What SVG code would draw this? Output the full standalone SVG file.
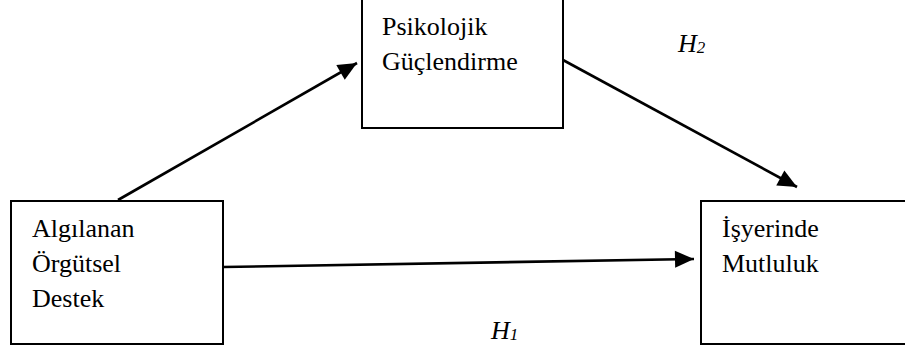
<svg xmlns="http://www.w3.org/2000/svg" width="905" height="349" viewBox="0 0 905 349">
<style>
.box{fill:#fff;stroke:#000;stroke-width:2}
.t{font-family:"Liberation Serif","Times New Roman",serif;font-size:26px;fill:#000}
.h{font-family:"Liberation Serif","Times New Roman",serif;font-style:italic;font-size:26px;fill:#000}
.s{font-size:17px}
.c{stroke:#000;stroke-width:2.6;fill:none;marker-end:url(#ah)}
</style>
<defs>
<marker id="ah" markerUnits="userSpaceOnUse" markerWidth="24" markerHeight="24" viewBox="0 0 24 24" refX="21" refY="12" orient="auto">
<path d="M2,3.5 L21,12 L2,20.5 Z" fill="#000"/>
</marker>
</defs>
<rect width="905" height="349" fill="#fff"/>
<g id="connectors">
<line class="c" x1="118" y1="200" x2="357" y2="63"/>
<line class="c" x1="563" y1="60" x2="797" y2="187"/>
<line class="c" x1="223" y1="267" x2="694" y2="259"/>
</g>
<g id="node-psikolojik">
<rect class="box" x="362" y="-2" width="201" height="130"/>
<text class="t" x="382" y="35">Psikolojik</text>
<text class="t" x="382" y="70">Güçlendirme</text>
</g>
<g id="node-algilanan">
<rect class="box" x="11" y="201" width="212" height="143"/>
<text class="t" x="32" y="237">Algılanan</text>
<text class="t" x="32" y="272">Örgütsel</text>
<text class="t" x="32" y="307">Destek</text>
</g>
<g id="node-isyerinde">
<rect class="box" x="701" y="201" width="210" height="143"/>
<text class="t" x="722" y="237">İşyerinde</text>
<text class="t" x="722" y="272">Mutluluk</text>
</g>
<g id="label-h1">
<text class="h" x="491" y="339">H<tspan class="s" dy="1">1</tspan></text>
</g>
<g id="label-h2">
<text class="h" x="678" y="52">H<tspan class="s" dy="1">2</tspan></text>
</g>
</svg>
